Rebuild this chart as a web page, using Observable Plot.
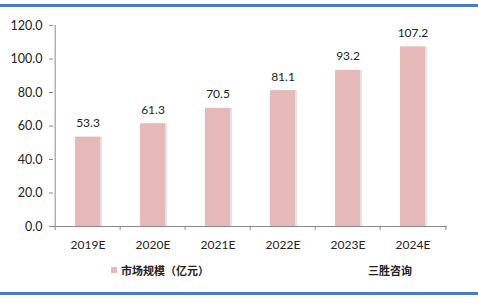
<!DOCTYPE html>
<html><head><meta charset="utf-8">
<script src="https://cdn.jsdelivr.net/npm/d3@7"></script>
<script src="https://cdn.jsdelivr.net/npm/@observablehq/plot@0.6"></script>
<style>
body{margin:0;background:#fff;font-family:Lato,"Noto Sans CJK SC",sans-serif;}
#wrap{position:relative;width:478px;height:304px;overflow:hidden;}
.line{position:absolute;left:0;width:478px;height:3px;background:#4a7ebb;}
#legend{position:absolute;top:262px;left:0;width:478px;height:18px;font-size:11px;color:#222;font-weight:bold;font-family:"Noto Sans CJK SC",sans-serif;}
</style></head><body>
<div id="wrap">
<div class="line" style="top:4px"></div>
<div id="chart" style="position:absolute;top:0;left:0"></div>
<div id="legend">
 <span style="position:absolute;left:111px;top:5px;width:6px;height:6px;background:#e6b9b8"></span>
 <span style="position:absolute;left:121px;top:0">市场规模（亿元）</span>
 <span style="position:absolute;left:368px;top:0">三胜咨询</span>
</div>
<div class="line" style="top:292px"></div>
</div>
<script>
const years = ["2019E","2020E","2021E","2022E","2023E","2024E"];
const values = [53.3, 61.3, 70.5, 81.1, 93.2, 107.2];
const yTicks = [0,20,40,60,80,100,120];

const data = years.map((y,i)=>({year:y, value:values[i]}));
const W=478, ML=53, MR=31;
const bw = (W-ML-MR)/years.length;
const font = "Lato, sans-serif";
const plot = Plot.plot({
  width: W, height: 262,
  marginTop: 25, marginBottom: 36, marginLeft: ML, marginRight: MR,
  style:{fontFamily:font, fontSize:"12px", color:"#222", background:"transparent"},
  x:{domain:years, paddingInner:0.61, paddingOuter:0.305, label:null},
  y:{domain:[0,120], label:null},
  marks:[
    Plot.barY(data,{x:"year", y:"value", fill:"#e3e3e3", dx:2}),
    Plot.barY(data,{x:"year", y:"value", fill:"#e6b9b8"}),
    Plot.text(data,{x:"year", y:"value", text:d=>d.value.toFixed(1), lineAnchor:"bottom", dy:-10, fontSize:12, fill:"#222"}),
    Plot.ruleY([0],{stroke:"#888"}),
    Plot.ruleX([years[0]],{x:d=>d, dx:-bw/2, y1:0, y2:120, stroke:"#888"}),
    Plot.ruleX(years,{x:d=>d, dx:-bw/2, y1:0, y2:0, insetTop:4, stroke:"#888"}),
    Plot.ruleX([years[years.length-1]],{x:d=>d, dx:bw/2, y1:0, y2:0, insetTop:4, stroke:"#888"}),
    Plot.axisY({ticks:yTicks, tickFormat:d=>d.toFixed(1), tickSize:4, tickPadding:7, stroke:"#888", fontSize:12.5}),
    Plot.axisX({tickSize:0, tickPadding:14, fontSize:12})
  ]
});
document.getElementById("chart").appendChild(plot);
</script>
</body></html>
